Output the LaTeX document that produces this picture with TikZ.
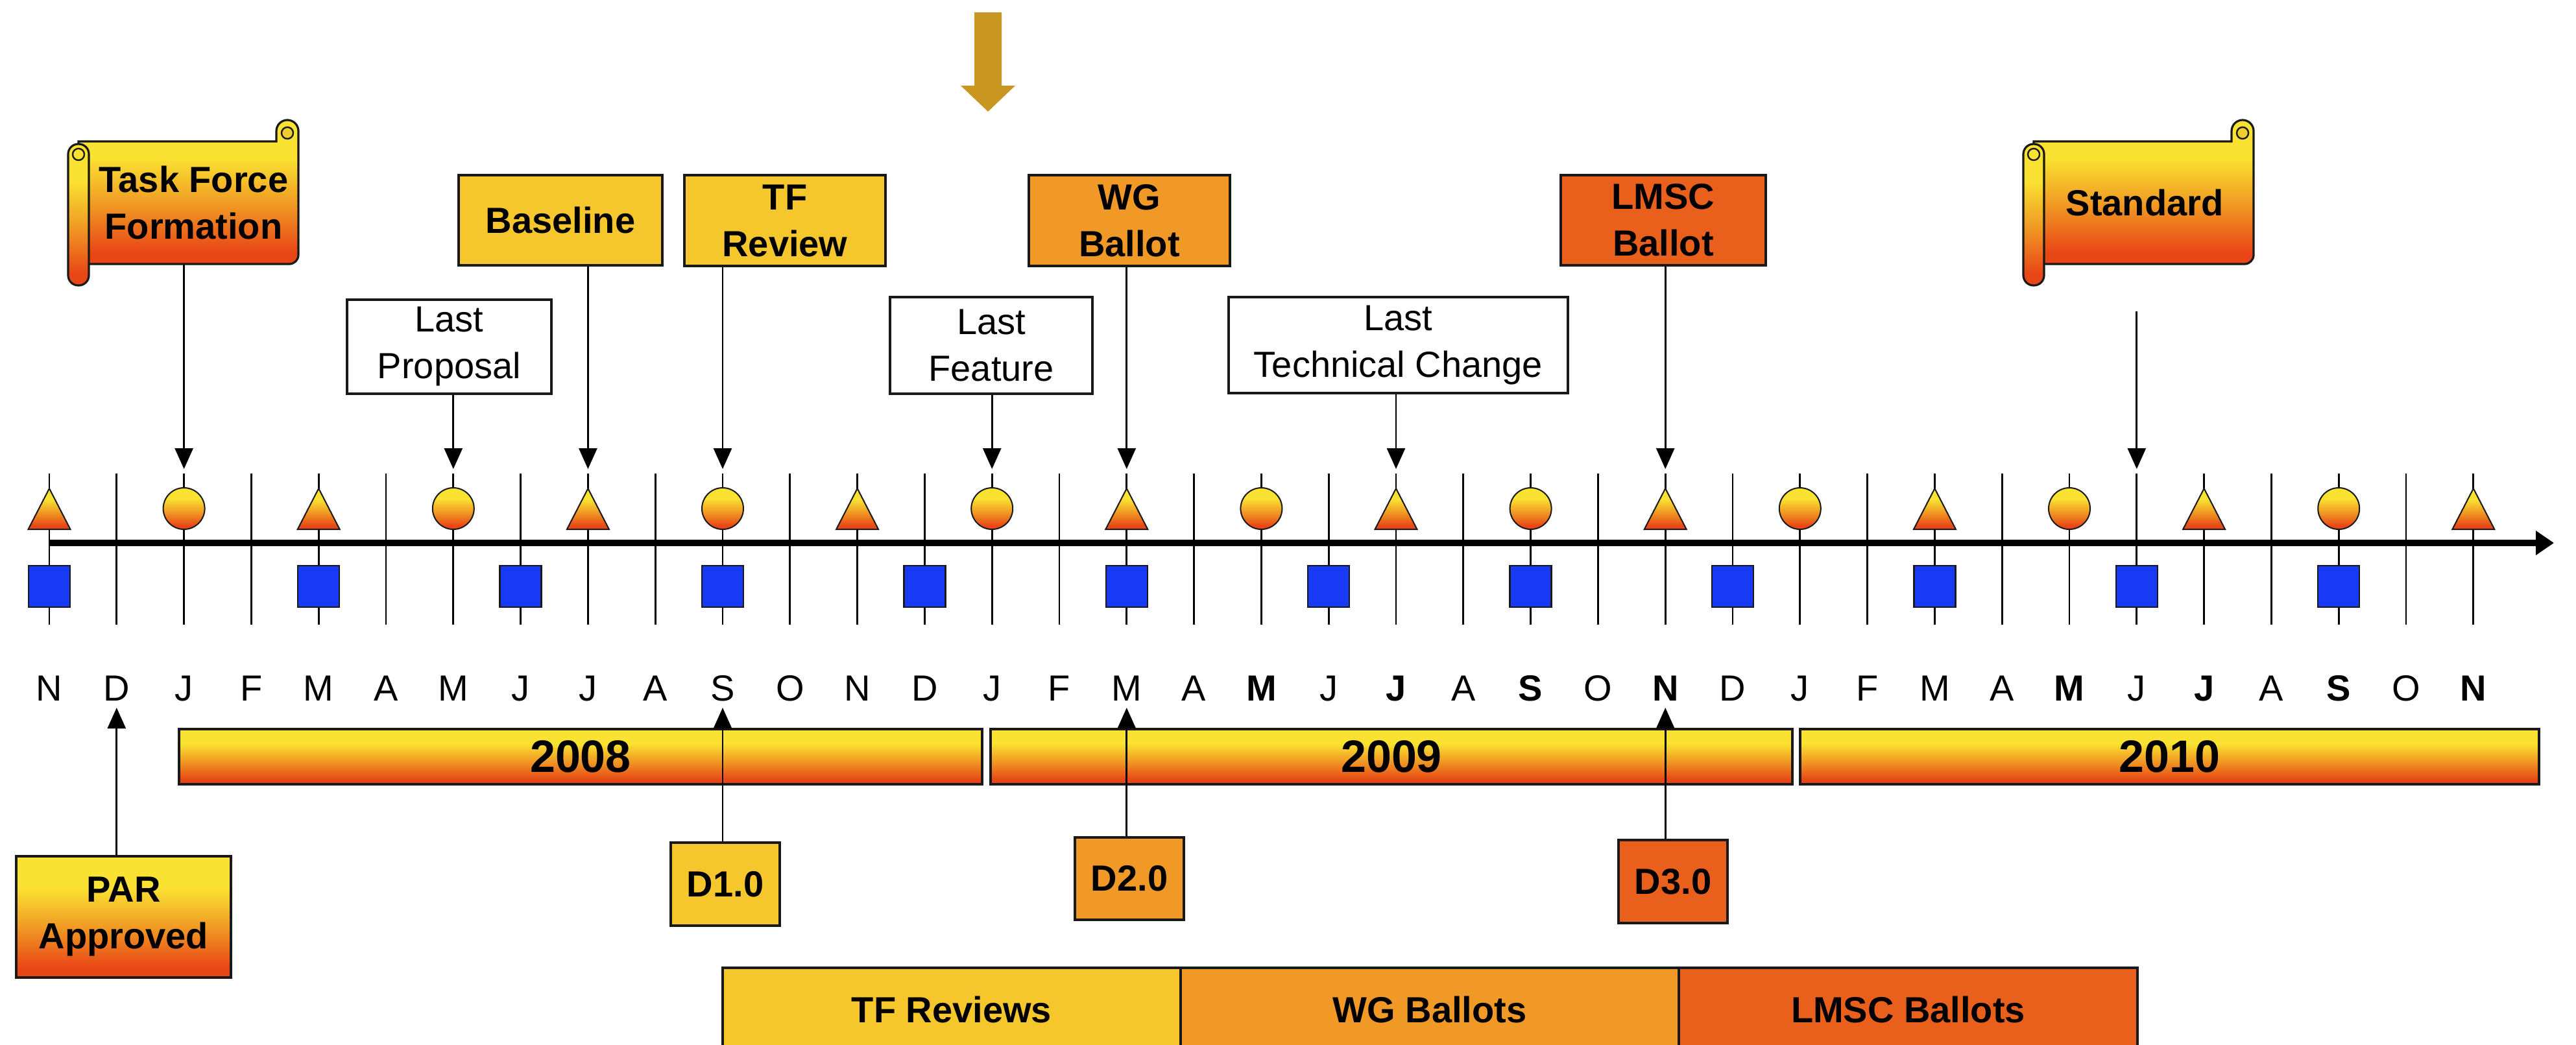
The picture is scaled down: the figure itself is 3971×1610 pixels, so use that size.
\documentclass[tikz,border=0pt]{standalone}
\usepackage{fontspec}
\setmainfont{Liberation Sans}
\usetikzlibrary{arrows.meta}

\definecolor{boxyellow}{RGB}{245,199,44}
\definecolor{boxorange}{RGB}{240,153,38}
\definecolor{boxred}{RGB}{233,95,28}
\definecolor{gradtop}{RGB}{250,226,50}
\definecolor{gradmid}{RGB}{240,155,36}
\definecolor{gradbot}{RGB}{232,70,22}
\definecolor{markblue}{RGB}{25,58,245}
\definecolor{gold}{RGB}{201,150,34}
\definecolor{edge}{RGB}{25,25,25}

% yellow-to-red vertical gradient (25bp = bottom of the path, 75bp = top)
\pgfdeclareverticalshading{sunset}{100bp}{color(0bp)=(gradbot); color(29bp)=(gradbot); color(46bp)=(gradmid); color(62bp)=(gradtop); color(100bp)=(gradtop)}

\tikzset{
  bx/.style={draw=edge, line width=0.9pt, inner sep=0pt, align=center,
    font=\fontsize{14}{18}\selectfont\bfseries},
  notebox/.style={bx, fill=white, font=\fontsize{14}{18}\selectfont},
  gradbox/.style={bx, shade, shading=sunset},
  yearbar/.style={gradbox, font=\fontsize{17.5}{20}\selectfont\bfseries},
  scrolltext/.style={inner sep=0pt, align=center, font=\fontsize{14}{18}\selectfont\bfseries},
  monthtick/.style={line width=0.7pt, draw=black},
  ptr/.style={line width=0.7pt, -{Triangle[length=8pt,width=7pt]}},
  mon/.style={anchor=base, inner sep=0pt, font=\fontsize{14}{16}\selectfont},
  monb/.style={mon, font=\fontsize{14}{16}\selectfont\bfseries},
  milestone/.style={draw=edge, line width=0.5pt, shading=sunset},
  sq/.style={draw=edge, line width=0.6pt, fill=markblue},
  scrollshape/.pic={
    % body with the rolled curl at the top right
    \shadedraw[shading=sunset, draw=edge, line width=0.8pt]
      (16,0) -- (321,0) -- (321,-16) arc[start angle=180, end angle=360, radius=17]
      -- (355,175) arc[start angle=0, end angle=90, radius=14] -- (16,189) -- cycle;
    \draw[edge, line width=0.6pt, fill=gradtop!75!gold] (338,-13) circle[radius=9];
    % rolled left edge
    \shadedraw[shading=sunset, draw=edge, line width=0.8pt, rounded corners=3.9pt]
      (0,4) rectangle (32,222);
    \draw[edge, line width=0.6pt] (16,20) circle[radius=9];
  }
}

\begin{document}
\begin{tikzpicture}[x=0.25pt, y=-0.25pt]
\useasboundingbox (0,0) rectangle (3971,1610);
\fill[white] (0,0) rectangle (3971,1610);
\clip (0,0) rectangle (3971,1610);

% month positions
\foreach \i in {0,...,36}{
  \pgfmathsetmacro\xx{76+103.8*\i}
  \coordinate (m\i) at (\xx,837);
  \coordinate (t\i) at (\xx,730);
  \coordinate (b\i) at (\xx,963);
  \coordinate (dn\i) at (\xx,723);
  \coordinate (up\i) at (\xx,1091);
}

% ticks and time axis
\foreach \i in {0,...,36} \draw[monthtick] (t\i) -- (b\i);
\coordinate (axisend) at (3937,837);
\draw[line width=2.6pt, -{Triangle[length=7pt,width=9pt]}] (m0) -- (axisend);

% markers above and below the axis
\foreach \i in {0,4,...,36}{
  \pgfmathsetmacro\xx{76+103.8*\i}
  \shadedraw[milestone] (\xx-32.5,816) -- (\xx+32.5,816) -- (\xx,753) -- cycle;
}
\foreach \i in {2,6,...,34}{
  \pgfmathsetmacro\xx{76+103.8*\i}
  \shadedraw[milestone] (\xx,784) circle[radius=32];
}
\foreach \i in {0,4,7,10,13,16,19,22,25,28,31,34}{
  \pgfmathsetmacro\xx{76+103.8*\i}
  \draw[sq] (\xx-32,872) rectangle (\xx+32,936);
}

% month letters
\foreach \lab/\st [count=\i from 0] in {N/mon,D/mon,J/mon,F/mon,M/mon,A/mon,M/mon,J/mon,J/mon,A/mon,S/mon,O/mon,N/mon,D/mon,J/mon,F/mon,M/mon,A/mon,M/monb,J/mon,J/monb,A/mon,S/monb,O/mon,N/monb,D/mon,J/mon,F/mon,M/mon,A/mon,M/monb,J/mon,J/monb,A/mon,S/monb,O/mon,N/monb}{
  \node[\st] (lbl\i) at ({76+103.8*\i},1080) {\lab};
}

% block arrow at the top
\fill[gold] (1502,19) -- (1544,19) -- (1544,132) -- (1565,132) -- (1523,172)
  -- (1481,132) -- (1502,132) -- cycle;

% scrolls
\pic at (105,218) {scrollshape};
\node[scrolltext, minimum width=80.75pt, minimum height=47.25pt] (tff) at (298.5,312.5) {Task Force\\Formation};
\pic at (3119,218) {scrollshape};
\node[scrolltext, minimum width=80.25pt, minimum height=47.25pt] (std) at (3306,312.5) {Standard};

% milestone boxes
\node[bx, fill=boxyellow, minimum width=78.5pt, minimum height=34.75pt] (base) at (864,339.5) {Baseline};
\node[bx, fill=boxyellow, minimum width=77.5pt, minimum height=35pt] (tfr) at (1210,340) {TF\\Review};
\node[bx, fill=boxorange, minimum width=77.5pt, minimum height=35pt] (wgb) at (1741,340) {WG\\Ballot};
\node[bx, fill=boxred, minimum width=79pt, minimum height=34.75pt] (lmb) at (2564,339.5) {LMSC\\Ballot};

\node[notebox, minimum width=78.75pt, minimum height=36.25pt] (lprop) at (692.5,534.5) {Last\\Proposal};
\node[notebox, minimum width=78pt, minimum height=37.25pt] (lfeat) at (1528,532.5) {Last\\Feature};
\node[notebox, minimum width=130.75pt, minimum height=37pt] (ltech) at (2155.5,532) {Last\\Technical Change};

% year bars
\node[yearbar, minimum width=309.5pt, minimum height=21.25pt] (y08) at (895,1166.5) {2008};
\node[yearbar, minimum width=309pt, minimum height=21.25pt] (y09) at (2145,1166.5) {2009};
\node[yearbar, minimum width=284.75pt, minimum height=21.25pt] (y10) at (3344.5,1166.5) {2010};

% draft and approval boxes
\node[gradbox, minimum width=82.75pt, minimum height=46.75pt] (par) at (190.5,1413.5) {PAR\\Approved};
\node[bx, fill=boxyellow, minimum width=42pt, minimum height=32pt] (d1) at (1118,1363) {D1.0};
\node[bx, fill=boxorange, minimum width=42pt, minimum height=31.75pt] (d2) at (1741,1354.5) {D2.0};
\node[bx, fill=boxred, minimum width=42pt, minimum height=32pt] (d3) at (2579,1359) {D3.0};

% review phases
\node[bx, fill=boxyellow, minimum width=176.5pt, minimum height=32pt] (tfrs) at (1467,1556) {TF Reviews};
\node[bx, fill=boxorange, minimum width=192pt, minimum height=32pt] (wgbs) at (2204,1556) {WG Ballots};
\node[bx, fill=boxred, minimum width=176.75pt, minimum height=32pt] (lmbs) at (2941.5,1556) {LMSC Ballots};

% pointers down to the time line
\draw[ptr] (tff.south -| m2) -- (dn2);
\draw[ptr] (lprop.south -| m6) -- (dn6);
\draw[ptr] (base.south -| m8) -- (dn8);
\draw[ptr] (tfr.south -| m10) -- (dn10);
\draw[ptr] (lfeat.south -| m14) -- (dn14);
\draw[ptr] (wgb.south -| m16) -- (dn16);
\draw[ptr] (ltech.south -| m20) -- (dn20);
\draw[ptr] (lmb.south -| m24) -- (dn24);
\coordinate (stdtail) at (3294,480);
\draw[ptr] (stdtail -| m31) -- (dn31);

% pointers up to the month letters
\draw[ptr] (par.north -| m1) -- (up1);
\draw[ptr] (d1.north -| m10) -- (up10);
\draw[ptr] (d2.north -| m16) -- (up16);
\draw[ptr] (d3.north -| m24) -- (up24);
\end{tikzpicture}
\end{document}
